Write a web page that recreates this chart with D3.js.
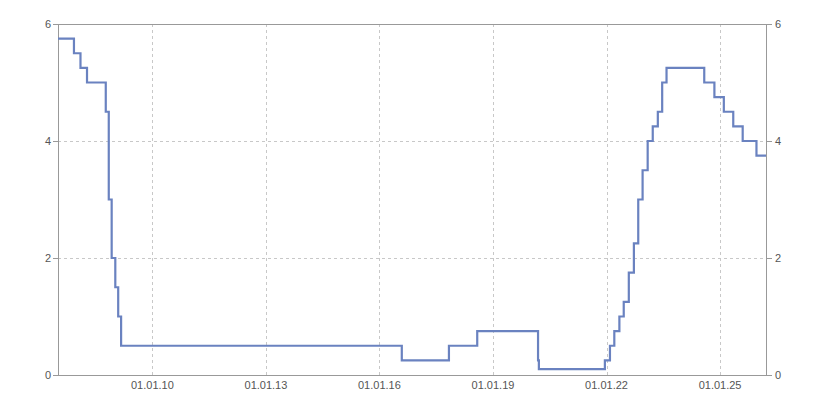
<!DOCTYPE html>
<html>
<head>
<meta charset="utf-8">
<script src="https://cdn.jsdelivr.net/npm/d3@7"></script>
<style>
    body { margin: 0; background: #fff; }
    .tickText { font-family: "Liberation Sans", Arial, sans-serif; font-size: 11px; fill: #555; }
</style>
</head>
<body>
<div id="chart"></div>
<script>
// Step dates and rate values (rate applies from that date on)
var rateDates = ["2007-07-05", "2007-12-06", "2008-02-07", "2008-04-10", "2008-10-08", "2008-11-06",
    "2008-12-04", "2009-01-08", "2009-02-05", "2009-03-05", "2016-08-04", "2017-11-02", "2018-08-02",
    "2020-03-11", "2020-03-19", "2021-12-16", "2022-02-03", "2022-03-17", "2022-05-05", "2022-06-16",
    "2022-08-04", "2022-09-22", "2022-11-03", "2022-12-15", "2023-02-02", "2023-03-23", "2023-05-11",
    "2023-06-22", "2023-08-03", "2024-08-01", "2024-11-07", "2025-02-06", "2025-05-08", "2025-08-07",
    "2025-12-18", "2026-03-20"];
var rateValues = [5.75, 5.5, 5.25, 5.0, 4.5, 3.0,
    2.0, 1.5, 1.0, 0.5, 0.25, 0.5, 0.75,
    0.25, 0.1, 0.25, 0.5, 0.75, 1.0, 1.25,
    1.75, 2.25, 3.0, 3.5, 4.0, 4.25, 4.5,
    5.0, 5.25, 5.0, 4.75, 4.5, 4.25, 4.0,
    3.75, 3.75];
var xTickDates = ["2010-01-01", "2013-01-01", "2016-01-01", "2019-01-01", "2022-01-01", "2025-01-01"];
var yTicks = [0, 2, 4, 6];

var svgWidth = 825;
var svgHeight = 400;
var margin = { top: 24, right: 59, bottom: 25, left: 58 };
var width = svgWidth - margin.left - margin.right;
var height = svgHeight - margin.top - margin.bottom;

var parseDate = d3.timeParse("%Y-%m-%d");
var data = rateDates.map(function (d, i) {
    return { date: parseDate(d), rate: rateValues[i] };
});

var svg = d3.select("#chart")
    .append("svg")
    .attr("width", svgWidth)
    .attr("height", svgHeight);

var chartGroup = svg.append("g")
    .attr("transform", `translate(${margin.left}, ${margin.top})`);

var xTimeScale = d3.scaleTime()
    .domain(d3.extent(data, d => d.date))
    .range([0, width]);

var yLinearScale = d3.scaleLinear()
    .domain([0, 6])
    .range([height, 0]);

// dashed grid
chartGroup.append("g")
    .selectAll("line")
    .data(xTickDates.map(parseDate))
    .enter()
    .append("line")
    .attr("x1", d => Math.round(xTimeScale(d)) + 0.5)
    .attr("x2", d => Math.round(xTimeScale(d)) + 0.5)
    .attr("y1", 0)
    .attr("y2", height + 3)
    .attr("stroke", "#c8c8c8")
    .attr("stroke-dasharray", "3,3");

chartGroup.append("g")
    .selectAll("line")
    .data(yTicks.filter(d => d > 0 && d < 6))
    .enter()
    .append("line")
    .attr("x1", 0)
    .attr("x2", width)
    .attr("y1", d => Math.round(yLinearScale(d)) + 0.5)
    .attr("y2", d => Math.round(yLinearScale(d)) + 0.5)
    .attr("stroke", "#c8c8c8")
    .attr("stroke-dasharray", "3,3");

// frame: left, right, top, bottom
var frame = chartGroup.append("g").attr("stroke", "#999").attr("stroke-width", 1);
frame.append("line").attr("x1", 0.5).attr("x2", 0.5).attr("y1", 0).attr("y2", height + 0.5);
frame.append("line").attr("x1", width + 0.5).attr("x2", width + 0.5).attr("y1", 0).attr("y2", height + 0.5);
frame.append("line").attr("x1", 0).attr("x2", width + 0.5).attr("y1", 0.5).attr("y2", 0.5);
frame.append("line").attr("x1", 0).attr("x2", width + 0.5).attr("y1", height + 0.5).attr("y2", height + 0.5);

// y ticks on both sides
yTicks.forEach(function (t) {
    var y = Math.round(yLinearScale(t)) + 0.5;
    frame.append("line").attr("x1", -5).attr("x2", 0).attr("y1", y).attr("y2", y);
    frame.append("line").attr("x1", width).attr("x2", width + 6).attr("y1", y).attr("y2", y);
    chartGroup.append("text")
        .attr("class", "tickText")
        .attr("x", -7)
        .attr("y", y)
        .attr("dy", "0.35em")
        .attr("text-anchor", "end")
        .text(t);
    chartGroup.append("text")
        .attr("class", "tickText")
        .attr("x", width + 9)
        .attr("y", y)
        .attr("dy", "0.35em")
        .text(t);
});

// x tick labels
chartGroup.append("g")
    .selectAll("text")
    .data(xTickDates.map(parseDate))
    .enter()
    .append("text")
    .attr("class", "tickText")
    .attr("x", d => xTimeScale(d))
    .attr("y", height + 14)
    .attr("text-anchor", "middle")
    .text(d3.timeFormat("%d.%m.%y"));

// step line
var rateLine = d3.line()
    .x(d => xTimeScale(d.date))
    .y(d => yLinearScale(d.rate))
    .curve(d3.curveStepAfter);

chartGroup.append("path")
    .datum(data)
    .attr("d", rateLine)
    .attr("fill", "none")
    .attr("stroke", "#6a82c0")
    .attr("stroke-width", 2.2);
</script>
</body>
</html>
